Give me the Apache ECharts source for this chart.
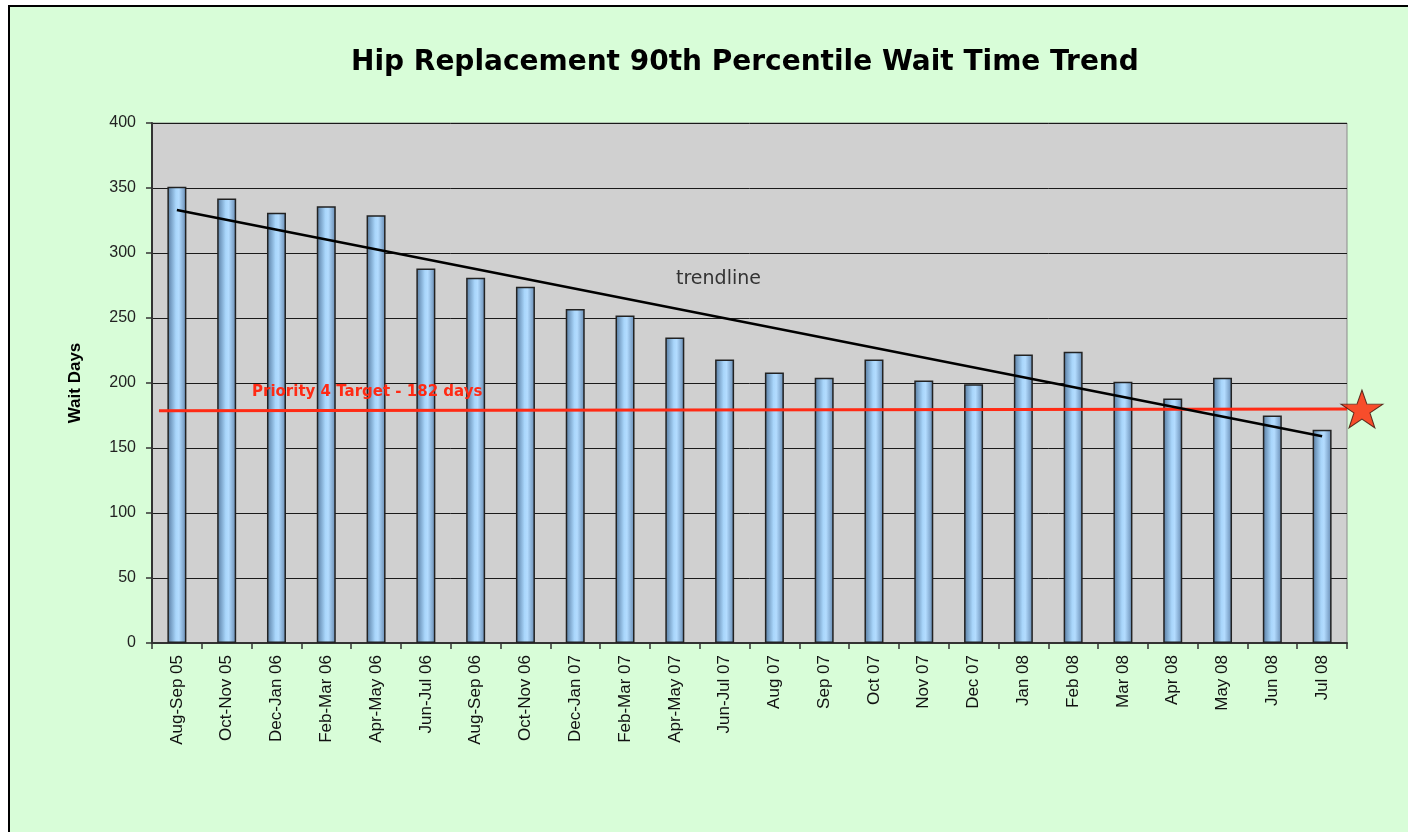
<!DOCTYPE html>
<html>
<head>
<meta charset="utf-8">
<script src="https://cdn.jsdelivr.net/npm/echarts@6/dist/echarts.min.js"></script>
<style>
    html, body { margin: 0; padding: 0; background: #fff; }
    #frame {
        position: absolute; left: 8px; top: 5px;
        width: 1420px; height: 840px;
        border: 2px solid #000;
        background: #d8fdd8;
    }
    #chart { position: absolute; left: 0; top: 0; width: 1408px; height: 832px; }
</style>
</head>
<body>
<div id="frame"></div>
<div id="chart"></div>
<script>
// categories and wait days
const periods = [
    'Aug-Sep 05', 'Oct-Nov 05', 'Dec-Jan 06', 'Feb-Mar 06', 'Apr-May 06', 'Jun-Jul 06',
    'Aug-Sep 06', 'Oct-Nov 06', 'Dec-Jan 07', 'Feb-Mar 07', 'Apr-May 07', 'Jun-Jul 07',
    'Aug 07', 'Sep 07', 'Oct 07', 'Nov 07', 'Dec 07', 'Jan 08',
    'Feb 08', 'Mar 08', 'Apr 08', 'May 08', 'Jun 08', 'Jul 08'
];
const waitDays = [
    351, 342, 331, 336, 329, 288,
    281, 274, 257, 252, 235, 218,
    208, 204, 218, 202, 199, 222,
    224, 201, 188, 204, 175, 164
];
// trendline ends (first / last category centre)
const trendLine = [[0.5, 333], [23.5, 159]];
// target line, runs a bit past the plot to the star
const targetLine = [[0.14, 178.7], [24.0, 180]];
const targetStar = [[24.3, 180]];

const starPath = 'path://M50,0 L61.8,35.4 L100,35.4 L69.1,57.3 L80.9,95.1 L50,72.7 L19.1,95.1 L30.9,57.3 L0,35.4 L38.2,35.4 Z';

const chart = echarts.init(document.getElementById('chart'));

const barColor = new echarts.graphic.LinearGradient(0, 0, 1, 0, [
    { offset: 0, color: '#55799f' },
    { offset: 0.45, color: '#a9d6fb' },
    { offset: 0.6, color: '#b3dcff' },
    { offset: 1, color: '#6488b0' }
]);

chart.setOption({
    animation: false,
    backgroundColor: 'transparent',
    title: {
        text: 'Hip Replacement 90th Percentile Wait Time Trend',
        left: 346,
        top: 44,
        textStyle: { fontFamily: 'DejaVu Sans', fontSize: 28, fontWeight: 'bold', color: '#000' }
    },
    grid: {
        left: 152, right: 61, top: 123, bottom: 189,
        show: true,
        backgroundColor: '#d0d0d0',
        borderColor: '#8a8a8a',
        borderWidth: 1
    },
    xAxis: [
        {
            type: 'category',
            data: periods,
            boundaryGap: true,
            axisLine: { lineStyle: { color: '#333', width: 2 } },
            axisTick: { show: true, length: 6, lineStyle: { color: '#333', width: 1.5 } },
            axisLabel: {
                rotate: 90,
                interval: 0,
                margin: 12,
                fontFamily: 'Liberation Sans',
                fontSize: 17,
                color: '#111'
            }
        },
        { type: 'value', min: 0, max: 24, show: false }
    ],
    yAxis: {
        type: 'value',
        min: 0,
        max: 400,
        interval: 50,
        name: 'Wait Days',
        nameLocation: 'middle',
        nameGap: 68,
        nameTextStyle: { fontFamily: 'Liberation Sans', fontSize: 17, fontWeight: 'bold', color: '#000' },
        axisLine: { show: true, lineStyle: { color: '#333', width: 2 } },
        axisTick: { show: true, length: 6, lineStyle: { color: '#333', width: 1.5 } },
        axisLabel: { margin: 16, fontFamily: 'Liberation Sans', fontSize: 16, color: '#222' },
        splitLine: { lineStyle: { color: '#1a1a1a', width: 1 } }
    },
    graphic: [
        {
            type: 'text', left: 676, top: 270, z: 100,
            style: { text: 'trendline', fontFamily: 'DejaVu Sans', fontSize: 19, fill: '#333' }
        },
        {
            type: 'text', left: 252, top: 385, z: 100,
            style: { text: 'Priority 4 Target - 182 days', fontFamily: 'DejaVu Sans', fontSize: 15, fontWeight: 'bold', fill: '#ff2a14' }
        }
    ],
    series: [
        {
            name: 'Wait Days',
            type: 'bar',
            data: waitDays,
            barWidth: 19,
            itemStyle: { color: barColor, borderColor: '#222', borderWidth: 1.5 }
        },
        {
            name: 'trendline',
            type: 'line',
            xAxisIndex: 1,
            data: trendLine,
            symbol: 'none',
            lineStyle: { color: '#000', width: 2.5 },
            z: 5
        },
        {
            name: 'target',
            type: 'line',
            xAxisIndex: 1,
            data: targetLine,
            symbol: 'none',
            clip: false,
            lineStyle: { color: '#ff2a14', width: 3 },
            z: 4
        },
        {
            name: 'star',
            type: 'scatter',
            xAxisIndex: 1,
            data: targetStar,
            symbol: starPath,
            symbolSize: [42, 38],
            clip: false,
            itemStyle: { color: '#ff2000', borderColor: '#3a1008', borderWidth: 1 },
            z: 6
        }
    ]
});
</script>
</body>
</html>
